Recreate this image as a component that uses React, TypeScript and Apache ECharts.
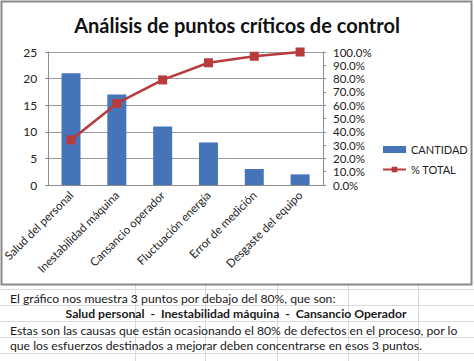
import React, { useEffect, useRef } from "react";
import * as echarts from "echarts";

const titleText = "Análisis de puntos críticos de control";
const categories = [
  "Salud del personal",
  "Inestabilidad máquina",
  "Cansancio operador",
  "Fluctuación energía",
  "Error de medición",
  "Desgaste del equipo",
];
const cantidad = [21, 17, 11, 8, 3, 2];
const porcentajeTotal = [0.339, 0.613, 0.79, 0.919, 0.968, 1.0];
const seriesNames = ["CANTIDAD", "% TOTAL"];
const notes = [
  "El gráfico nos muestra 3 puntos por debajo del 80%, que son:",
  "Salud personal  -  Inestabilidad máquina  -  Cansancio Operador",
  "Estas son las causas que están ocasionando el 80% de defectos en el proceso, por lo",
  "que los esfuerzos destinados a mejorar deben concentrarse en esos 3 puntos.",
];

const FONT = "Lato, 'Open Sans', sans-serif";

export default function App() {
  const ref = useRef<HTMLDivElement>(null);
  useEffect(() => {
    if (!ref.current) return;
    const chart = echarts.init(ref.current, undefined, { renderer: "svg" });

    const sheetLines: any[] = [];
    const rowYs = [289.5, 305.5, 321.5, 337.5, 353.5];
    rowYs.forEach((y) =>
      sheetLines.push({
        type: "line",
        shape: { x1: 0, y1: y, x2: 474, y2: y },
        style: { stroke: "#d9d9d9", lineWidth: 1 },
        silent: true,
      })
    );
    [135.5, 205.5, 277.5, 348.5, 418.5].forEach((x) =>
      sheetLines.push({
        type: "line",
        shape: { x1: x, y1: 285, x2: x, y2: 361 },
        style: { stroke: "#d9d9d9", lineWidth: 1 },
        silent: true,
      })
    );

    const noteTexts = [
      { text: notes[0], x: 10, y: 298, bold: false, align: "left" },
      { text: notes[1], x: 236, y: 313.5, bold: true, align: "center" },
      { text: notes[2], x: 10, y: 330, bold: false, align: "left" },
      { text: notes[3], x: 10, y: 345.5, bold: false, align: "left" },
    ].map((n) => ({
      type: "text",
      x: n.x,
      y: n.y,
      style: {
        text: n.text,
        fill: "#1a1a1a",
        font: `${n.bold ? "bold " : ""}12.2px ${FONT}`,
        align: n.align,
        verticalAlign: "middle",
      },
      silent: true,
    }));

    chart.setOption({
      animation: false,
      backgroundColor: "#ffffff",
      textStyle: { fontFamily: FONT },
      title: {
        text: titleText,
        left: "center",
        top: 10,
        textStyle: { fontSize: 20, fontWeight: "bold", color: "#111", fontFamily: FONT },
      },
      legend: {
        orient: "vertical",
        left: 382,
        top: 143,
        itemWidth: 23,
        itemHeight: 7,
        itemGap: 7,
        padding: 0,
        textStyle: { fontSize: 11, color: "#222", lineHeight: 13 },
        data: [
          { name: seriesNames[0], icon: "rect" },
          { name: seriesNames[1] },
        ],
      },
      grid: { left: 47, right: 151, top: 52, bottom: 176 },
      xAxis: {
        type: "category",
        data: categories,
        axisLine: { lineStyle: { color: "#8c8c8c" } },
        axisTick: { show: false },
        axisLabel: { rotate: 45, fontSize: 11.5, color: "#222", margin: 8, interval: 0 },
      },
      yAxis: [
        {
          type: "value",
          min: 0,
          max: 25,
          interval: 5,
          axisLine: { show: true, lineStyle: { color: "#8c8c8c" } },
          axisTick: { show: true, length: 3, lineStyle: { color: "#8c8c8c" } },
          axisLabel: { fontSize: 12, color: "#222", margin: 11 },
          splitLine: { lineStyle: { color: "#9a9a9a" } },
        },
        {
          type: "value",
          min: 0,
          max: 1,
          interval: 0.1,
          position: "right",
          axisLine: { show: true, lineStyle: { color: "#8c8c8c" } },
          axisTick: { show: true, length: 3, lineStyle: { color: "#8c8c8c" } },
          axisLabel: {
            fontSize: 11.5,
            lineHeight: 12,
            color: "#222",
            margin: 10,
            formatter: (v: number) => (v * 100).toFixed(1) + "%",
          },
          splitLine: { show: false },
        },
      ],
      series: [
        {
          name: seriesNames[0],
          type: "bar",
          data: cantidad,
          barWidth: 19,
          itemStyle: { color: "#4674b8" },
        },
        {
          name: seriesNames[1],
          type: "line",
          yAxisIndex: 1,
          data: porcentajeTotal,
          symbol: "rect",
          symbolSize: 9,
          lineStyle: { color: "#b83b3b", width: 2.5 },
          itemStyle: { color: "#b83b3b" },
        },
      ],
      graphic: [
        ...sheetLines,
        {
          type: "rect",
          shape: { x: 1.5, y: 1.5, width: 470, height: 283 },
          style: { fill: "none", stroke: "#8a8a8a", lineWidth: 2 },
          silent: true,
          z: 100,
        },
        ...noteTexts,
      ],
    });
    return () => chart.dispose();
  }, []);
  return (
    <div
      ref={ref}
      style={{ position: "absolute", left: 0, top: 0, width: 474, height: 361, background: "#fff" }}
    />
  );
}
